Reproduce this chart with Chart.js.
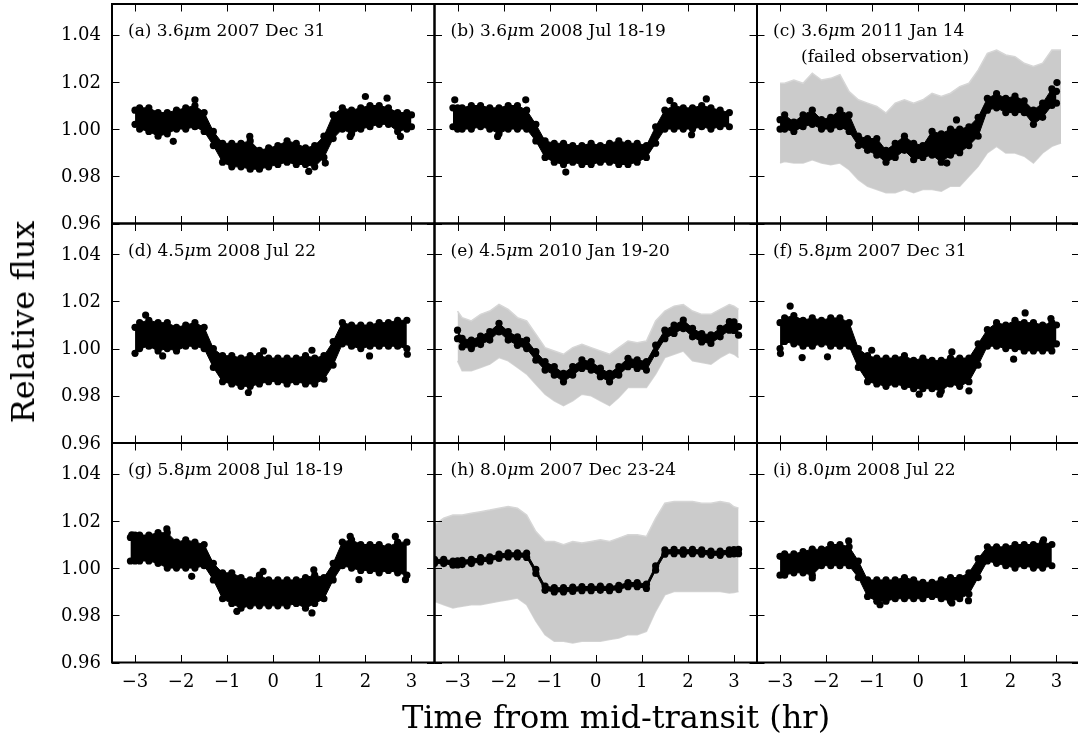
<!DOCTYPE html>
<html>
<head>
<meta charset="utf-8">
<title>Transit light curves</title>
<script src="https://cdn.jsdelivr.net/npm/chart.js@4.4.1/dist/chart.umd.min.js"></script>
<style>
  html, body { margin: 0; padding: 0; background: #fff; }
  #fig { position: relative; width: 1078px; height: 740px; overflow: hidden; background: #fff; }
  #fig canvas { position: absolute; }
  .axis-title { position: absolute; font-family: "DejaVu Serif", serif; font-size: 32px; color: #000; white-space: nowrap; line-height: 1; }
</style>
</head>
<body>
<div id="fig">
  <div class="axis-title" id="ytitle">Relative flux</div>
  <div class="axis-title" id="xtitle">Time from mid-transit (hr)</div>
</div>
<script>
const _ = null;

// Time grid (hours from mid-transit) shared by all panels
const hours = [-3.5, -3.3, -3.1, -3.0, -2.9, -2.7, -2.5, -2.3, -2.1, -1.9, -1.7, -1.5, -1.3, -1.1,
  -0.9, -0.7, -0.5, -0.3, -0.1, 0.1, 0.3, 0.5, 0.7, 0.9, 1.1, 1.3, 1.5, 1.7, 1.9, 2.1, 2.3, 2.5,
  2.7, 2.9, 3.0, 3.1, 3.3];

const yTickValues = [0.96, 0.98, 1.00, 1.02, 1.04];
const xTickValues = [-3, -2, -1, 0, 1, 2, 3];

const panelTags = ['(a)', '(b)', '(c)', '(d)', '(e)', '(f)', '(g)', '(h)', '(i)'];
const bandsMicron = ['3.6', '3.6', '3.6', '4.5', '4.5', '5.8', '5.8', '8.0', '8.0'];
const obsDates = ['2007 Dec 31', '2008 Jul 18-19', '2011 Jan 14', '2008 Jul 22', '2010 Jan 19-20',
  '2007 Dec 31', '2008 Jul 18-19', '2007 Dec 23-24', '2008 Jul 22'];
const panelNotes = [_, _, '(failed observation)', _, _, _, _, _, _];

// Binned light curves: upper and lower edge of the binned points
const aHi = [_, _, _, 1.008, 1.009, 1.009, 1.007, 1.007, 1.008, 1.009, 1.010, 1.007, 0.999, 0.994, 0.994, 0.994, 0.995, 0.991, 0.992, 0.993, 0.995, 0.994, 0.992, 0.993, 0.997, 1.006, 1.009, 1.008, 1.009, 1.010, 1.010, 1.009, 1.007, 1.007, 1.006, _, _];
const aLo = [_, _, _, 1.002, 1.000, 0.999, 0.997, 0.998, 1.000, 1.000, 1.001, 0.999, 0.993, 0.986, 0.984, 0.984, 0.983, 0.983, 0.984, 0.985, 0.986, 0.985, 0.985, 0.984, 0.988, 0.996, 1.000, 0.998, 1.000, 1.001, 1.002, 1.002, 0.999, 1.000, 1.001, _, _];
const aStray = [[-2.17, 0.9948], [-1.70, 1.0124], [-0.51, 0.9969], [0.77, 0.9821], [1.13, 0.9856], [1.67, 0.9969], [2.00, 1.0138], [2.47, 1.0131], [2.76, 0.9969]];

const bHi = [_, _, 1.009, 1.009, 1.009, 1.010, 1.010, 1.009, 1.009, 1.010, 1.010, 1.008, 1.002, 0.995, 0.994, 0.994, 0.993, 0.993, 0.994, 0.993, 0.994, 0.995, 0.994, 0.994, 0.993, 1.001, 1.008, 1.010, 1.009, 1.009, 1.010, 1.009, 1.008, 1.007, _, _, _];
const bLo = [_, _, 1.001, 1.000, 1.000, 1.000, 1.001, 1.000, 0.998, 1.000, 1.000, 1.000, 0.995, 0.988, 0.986, 0.985, 0.986, 0.985, 0.985, 0.986, 0.986, 0.985, 0.985, 0.986, 0.988, 0.994, 1.000, 1.000, 1.000, 1.000, 1.001, 1.000, 1.001, 1.001, _, _, _];
const bStray = [[-3.06, 1.0124], [-1.52, 1.0124], [-2.13, 0.9969], [-0.65, 0.9818], [1.61, 1.0121], [2.08, 0.9976], [2.40, 1.0128]];

const cHi = [_, _, _, 1.004, 1.006, 1.003, 1.006, 1.008, 1.004, 1.005, 1.008, 1.006, 0.997, 0.996, 0.996, 0.991, 0.994, 0.997, 0.994, 0.993, 0.999, 0.998, 1.000, 1.000, 1.001, 1.005, 1.013, 1.015, 1.013, 1.014, 1.012, 1.008, 1.011, 1.017, 1.016, _, _];
const cLo = [_, _, _, 1.000, 1.000, 0.999, 1.001, 1.002, 1.000, 1.000, 1.001, 0.999, 0.993, 0.991, 0.989, 0.986, 0.988, 0.991, 0.987, 0.988, 0.989, 0.986, 0.989, 0.990, 0.993, 0.997, 1.008, 1.009, 1.007, 1.007, 1.007, 1.002, 1.005, 1.010, 1.011, _, _];
const cStray = [[3.01, 1.0197], [0.83, 1.0039], [0.62, 0.9856]];
const cGrayHi = [_, _, _, 1.0194, 1.0194, 1.0208, 1.0194, 1.0237, 1.0208, 1.0215, 1.0230, 1.0159, 1.0124, 1.0110, 1.0096, 1.0068, 1.0110, 1.0124, 1.0110, 1.0124, 1.0152, 1.0138, 1.0152, 1.0180, 1.0194, 1.0250, 1.0321, 1.0335, 1.0314, 1.0307, 1.0279, 1.0265, 1.0279, 1.0335, 1.0335, 1.0335, _];
const cGrayLo = [_, _, _, 0.9856, 0.9863, 0.9856, 0.9856, 0.9870, 0.9856, 0.9849, 0.9856, 0.9828, 0.9786, 0.9758, 0.9744, 0.9730, 0.9730, 0.9744, 0.9730, 0.9744, 0.9744, 0.9737, 0.9758, 0.9758, 0.9800, 0.9842, 0.9899, 0.9927, 0.9899, 0.9899, 0.9885, 0.9856, 0.9899, 0.9927, 0.9934, 0.9941, _];

const dHi = [_, _, _, 1.009, 1.011, 1.012, 1.011, 1.011, 1.009, 1.010, 1.011, 1.009, 1.000, 0.997, 0.997, 0.996, 0.997, 0.997, 0.996, 0.996, 0.996, 0.996, 0.997, 0.996, 0.997, 1.003, 1.011, 1.010, 1.010, 1.010, 1.011, 1.011, 1.012, 1.012, _, _, _];
const dLo = [_, _, _, 0.998, 1.000, 1.001, 0.999, 1.000, 0.999, 1.001, 1.001, 1.000, 0.992, 0.986, 0.985, 0.984, 0.984, 0.985, 0.986, 0.986, 0.985, 0.986, 0.985, 0.985, 0.987, 0.993, 1.002, 1.001, 1.000, 1.001, 1.001, 1.001, 1.001, 1.000, _, _, _];
const dStray = [[-2.77, 1.0142], [-2.40, 0.9969], [-0.54, 0.9814], [-0.21, 0.9990], [0.84, 0.9993], [2.09, 0.9969], [2.91, 0.9976]];

const eHi = [_, _, _, 1.0078, 1.0043, 1.0036, 1.0053, 1.0072, 1.0107, 1.0072, 1.0050, 1.0036, 0.9987, 0.9945, 0.9924, 0.9895, 0.9924, 0.9952, 0.9945, 0.9917, 0.9895, 0.9924, 0.9959, 0.9952, 0.9945, 1.0015, 1.0078, 1.0100, 1.0121, 1.0086, 1.0064, 1.0058, 1.0086, 1.0114, 1.0113, 1.0093, _];
const eLo = [_, _, _, 1.0042, 1.0007, 1.0000, 1.0017, 1.0036, 1.0071, 1.0036, 1.0014, 1.0000, 0.9951, 0.9909, 0.9888, 0.9859, 0.9888, 0.9916, 0.9909, 0.9881, 0.9859, 0.9888, 0.9923, 0.9916, 0.9909, 0.9979, 1.0042, 1.0064, 1.0085, 1.0050, 1.0028, 1.0022, 1.0050, 1.0078, 1.0077, 1.0057, _];
const eGrayHi = [_, _, _, 1.0159, 1.0131, 1.0117, 1.0145, 1.0159, 1.0187, 1.0166, 1.0131, 1.0117, 1.0061, 1.0004, 0.9990, 0.9976, 1.0004, 1.0018, 1.0004, 0.9990, 0.9976, 1.0004, 1.0032, 1.0025, 1.0032, 1.0117, 1.0159, 1.0180, 1.0187, 1.0159, 1.0145, 1.0145, 1.0166, 1.0187, 1.0180, 1.0166, _];
const eGrayLo = [_, _, _, 0.9948, 0.9906, 0.9906, 0.9920, 0.9934, 0.9962, 0.9948, 0.9920, 0.9892, 0.9849, 0.9807, 0.9779, 0.9758, 0.9779, 0.9807, 0.9800, 0.9779, 0.9758, 0.9793, 0.9835, 0.9835, 0.9835, 0.9892, 0.9962, 0.9976, 0.9990, 0.9948, 0.9941, 0.9934, 0.9962, 0.9983, 0.9976, 0.9962, _];

const fHi = [_, _, _, 1.011, 1.013, 1.014, 1.012, 1.013, 1.012, 1.013, 1.013, 1.011, 1.000, 0.997, 0.996, 0.996, 0.996, 0.997, 0.995, 0.996, 0.995, 0.995, 0.996, 0.996, 0.996, 1.002, 1.008, 1.011, 1.010, 1.012, 1.011, 1.011, 1.010, 1.011, 1.010, _, _];
const fLo = [_, _, _, 1.000, 1.003, 1.002, 1.001, 1.001, 1.002, 1.001, 1.001, 1.001, 0.992, 0.986, 0.985, 0.984, 0.985, 0.984, 0.983, 0.983, 0.983, 0.982, 0.985, 0.984, 0.986, 0.993, 1.001, 1.001, 1.000, 1.000, 0.999, 0.999, 0.999, 0.999, 1.002, _, _];
const fStray = [[-2.99, 0.9979], [-2.78, 1.0180], [-2.52, 0.9962], [-1.97, 0.9965], [-1.01, 0.9993], [0.02, 0.9807], [0.47, 0.9807], [1.10, 0.9821], [2.07, 0.9955], [2.32, 1.0151], [2.88, 1.0127], [0.73, 0.9986]];

const gHi = [_, _, 1.013, 1.014, 1.014, 1.014, 1.015, 1.015, 1.011, 1.012, 1.011, 1.010, 1.002, 0.998, 0.998, 0.996, 0.995, 0.997, 0.995, 0.995, 0.995, 0.995, 0.996, 0.997, 0.996, 1.002, 1.011, 1.012, 1.010, 1.010, 1.010, 1.009, 1.011, 1.011, _, _, _];
const gLo = [_, _, 1.003, 1.003, 1.003, 1.003, 1.002, 1.000, 1.000, 1.000, 1.000, 1.001, 0.995, 0.987, 0.985, 0.983, 0.984, 0.984, 0.984, 0.984, 0.984, 0.985, 0.983, 0.985, 0.987, 0.995, 1.001, 1.000, 0.999, 0.999, 0.998, 0.999, 0.998, 0.997, _, _, _];
const gStray = [[-3.07, 1.0141], [-2.31, 1.0166], [-1.77, 0.9965], [-0.79, 0.9817], [-0.22, 0.9986], [0.84, 0.9810], [0.88, 0.9993], [1.67, 1.0134], [1.86, 0.9951], [2.65, 1.0134], [2.87, 0.9951]];

const hHi = [1.0037, 1.0037, 1.0030, 1.0031, 1.0033, 1.0037, 1.0044, 1.0048, 1.0059, 1.0065, 1.0065, 1.0063, 0.9995, 0.9924, 0.9917, 0.9917, 0.9919, 0.9922, 0.9922, 0.9924, 0.9922, 0.9927, 0.9939, 0.9939, 0.9932, 1.0009, 1.0077, 1.0079, 1.0077, 1.0079, 1.0077, 1.0072, 1.0072, 1.0077, 1.0078, 1.0079, _];
const hLo = [1.0019, 1.0019, 1.0012, 1.0013, 1.0015, 1.0019, 1.0026, 1.0030, 1.0041, 1.0047, 1.0047, 1.0045, 0.9977, 0.9906, 0.9899, 0.9899, 0.9901, 0.9904, 0.9904, 0.9906, 0.9904, 0.9909, 0.9921, 0.9921, 0.9914, 0.9991, 1.0059, 1.0061, 1.0059, 1.0061, 1.0059, 1.0054, 1.0054, 1.0059, 1.0060, 1.0061, _];
const hGrayHi = [1.0183, 1.0211, 1.0225, 1.0225, 1.0225, 1.0232, 1.0239, 1.0246, 1.0254, 1.0261, 1.0254, 1.0225, 1.0155, 1.0113, 1.0113, 1.0099, 1.0113, 1.0106, 1.0113, 1.0120, 1.0113, 1.0127, 1.0141, 1.0141, 1.0134, 1.0211, 1.0275, 1.0282, 1.0282, 1.0282, 1.0275, 1.0275, 1.0282, 1.0275, 1.0260, 1.0254, _];
const hGrayLo = [0.9859, 0.9845, 0.9831, 0.9835, 0.9838, 0.9845, 0.9845, 0.9852, 0.9859, 0.9866, 0.9873, 0.9845, 0.9775, 0.9718, 0.9690, 0.9690, 0.9683, 0.9690, 0.9690, 0.9690, 0.9697, 0.9704, 0.9718, 0.9718, 0.9732, 0.9817, 0.9887, 0.9901, 0.9901, 0.9901, 0.9901, 0.9901, 0.9901, 0.9894, 0.9897, 0.9901, _];

const iHi = [_, _, _, 1.005, 1.006, 1.006, 1.007, 1.008, 1.008, 1.010, 1.010, 1.009, 1.003, 0.995, 0.995, 0.995, 0.995, 0.996, 0.995, 0.994, 0.994, 0.995, 0.996, 0.996, 0.998, 1.004, 1.009, 1.009, 1.009, 1.010, 1.010, 1.010, 1.011, 1.010, _, _, _];
const iLo = [_, _, _, 0.997, 0.997, 0.998, 0.998, 0.997, 1.001, 1.001, 1.001, 1.001, 0.996, 0.988, 0.986, 0.986, 0.987, 0.987, 0.987, 0.987, 0.988, 0.987, 0.986, 0.987, 0.989, 0.996, 1.003, 1.002, 1.001, 1.000, 1.001, 1.000, 1.000, 1.001, _, _, _];
const iStray = [[-2.30, 0.9958], [-1.51, 1.0115], [-0.83, 0.9845], [0.73, 0.9852], [1.09, 0.9862], [2.72, 1.0120]];

const blackHi = [aHi, bHi, cHi, dHi, eHi, fHi, gHi, hHi, iHi];
const blackLo = [aLo, bLo, cLo, dLo, eLo, fLo, gLo, hLo, iLo];
const strayPoints = [aStray, bStray, cStray, dStray, [], fStray, gStray, [], iStray];
const grayHi = [_, _, cGrayHi, _, eGrayHi, _, _, hGrayHi, _];
const grayLo = [_, _, cGrayLo, _, eGrayLo, _, _, hGrayLo, _];

// ---- layout of the 3x3 grid (pixels) ----
const GRID_LEFT = 112, GRID_TOP = 4, CELL_W = 322.5, CELL_H = 219.5;
const X_MIN = -3.5, X_MAX = 3.5, Y_MIN = 0.96, Y_MAX = 1.053;
const FONT = '"DejaVu Serif", serif';
const TICK_LEN = 7.5;
const DOT_R = 3.6;

function toPoints(values) {
  return hours.map((x, i) => ({ x: x, y: values[i] })).filter(p => p.y !== null);
}

function fmtTick(v) {
  return v < 0 ? '\u2212' + Math.abs(v) : String(v);
}

// Frame, inward ticks, tick labels and the panel caption
const framePlugin = {
  id: 'panelFrame',
  afterDraw(chart, args, opts) {
    const { ctx, chartArea: a, scales } = chart;
    const xs = scales.x, ys = scales.y;
    ctx.save();
    ctx.strokeStyle = '#000';
    ctx.lineWidth = 1;
    ctx.beginPath();
    xTickValues.forEach(v => {
      const px = Math.round(xs.getPixelForValue(v)) + 0.5;
      ctx.moveTo(px, a.top); ctx.lineTo(px, a.top + TICK_LEN);
      ctx.moveTo(px, a.bottom); ctx.lineTo(px, a.bottom - TICK_LEN);
    });
    yTickValues.forEach(v => {
      const py = Math.round(ys.getPixelForValue(v)) + 0.5;
      ctx.moveTo(a.left, py); ctx.lineTo(a.left + TICK_LEN, py);
      ctx.moveTo(a.right, py); ctx.lineTo(a.right - TICK_LEN, py);
    });
    ctx.stroke();

    ctx.lineWidth = 2;
    ctx.strokeRect(a.left, a.top, a.right - a.left, a.bottom - a.top);

    ctx.fillStyle = '#000';
    if (opts.yLabels) {
      ctx.font = '18px ' + FONT;
      ctx.textAlign = 'right';
      ctx.textBaseline = 'middle';
      yTickValues.forEach(v => {
        ctx.fillText(v.toFixed(2), a.left - 11, ys.getPixelForValue(v) + 1);
      });
    }
    if (opts.xLabels) {
      ctx.font = '18px ' + FONT;
      ctx.textAlign = 'center';
      ctx.textBaseline = 'middle';
      xTickValues.forEach(v => {
        ctx.fillText(fmtTick(v), xs.getPixelForValue(v), a.bottom + 20);
      });
    }

    // caption: "(a) 3.6μm 2007 Dec 31" with an italic μ
    ctx.textAlign = 'left';
    ctx.textBaseline = 'alphabetic';
    let x = a.left + 16;
    const yBase = a.top + 32;
    const parts = [
      [opts.tag + ' ' + opts.band, '17px ' + FONT],
      ['\u03bc', 'italic 17px ' + FONT],
      ['m ' + opts.date, '17px ' + FONT]
    ];
    parts.forEach(([txt, font]) => {
      ctx.font = font;
      ctx.fillText(txt, x, yBase);
      x += ctx.measureText(txt).width;
    });
    if (opts.note) {
      ctx.font = '17px ' + FONT;
      ctx.fillText(opts.note, a.left + 44, a.top + 58);
    }
    ctx.restore();
  }
};

const fig = document.getElementById('fig');

for (let k = 0; k < 9; k++) {
  const row = Math.floor(k / 3), col = k % 3;
  const areaL = GRID_LEFT + col * CELL_W;
  const areaT = GRID_TOP + row * CELL_H;
  const areaR = areaL + CELL_W, areaB = areaT + CELL_H;

  const cL = col === 0 ? 0 : Math.floor(areaL) - 4;
  const cT = row === 0 ? 0 : Math.floor(areaT) - 4;
  const cR = Math.ceil(areaR) + 4;
  const cB = row === 2 ? 705 : Math.ceil(areaB) + (col === 0 ? 14 : 4);

  const canvas = document.createElement('canvas');
  canvas.width = cR - cL;
  canvas.height = cB - cT;
  canvas.style.left = cL + 'px';
  canvas.style.top = cT + 'px';
  canvas.style.width = (cR - cL) + 'px';
  canvas.style.height = (cB - cT) + 'px';
  canvas.style.zIndex = String(10 - k);
  fig.appendChild(canvas);

  const datasets = [
    {
      data: strayPoints[k].map(([x, y]) => ({ x, y })), showLine: false,
      pointRadius: DOT_R, pointBackgroundColor: '#000', pointBorderWidth: 0, clip: 0
    },
    {
      data: toPoints(blackHi[k]), borderColor: '#000', borderWidth: 1,
      backgroundColor: '#000', fill: '+1',
      pointRadius: DOT_R, pointBackgroundColor: '#000', pointBorderWidth: 0, clip: 0
    },
    {
      data: toPoints(blackLo[k]), borderColor: '#000', borderWidth: 1,
      fill: false,
      pointRadius: DOT_R, pointBackgroundColor: '#000', pointBorderWidth: 0, clip: 0
    }
  ];
  if (grayHi[k]) {
    datasets.push(
      {
        data: toPoints(grayHi[k]), borderColor: '#d6d6d6', borderWidth: 1.5,
        backgroundColor: '#cbcbcb', fill: '+1', pointRadius: 0, clip: 0
      },
      {
        data: toPoints(grayLo[k]), borderColor: '#d6d6d6', borderWidth: 1.5,
        fill: false, pointRadius: 0, clip: 0
      }
    );
  }

  new Chart(canvas, {
    type: 'line',
    data: { datasets },
    options: {
      responsive: false,
      animation: false,
      devicePixelRatio: 1,
      events: [],
      layout: {
        padding: { left: areaL - cL, top: areaT - cT, right: cR - areaR, bottom: cB - areaB }
      },
      scales: {
        x: { type: 'linear', min: X_MIN, max: X_MAX, display: false },
        y: { type: 'linear', min: Y_MIN, max: Y_MAX, display: false }
      },
      elements: { line: { tension: 0 } },
      plugins: {
        legend: { display: false },
        tooltip: { enabled: false },
        panelFrame: {
          tag: panelTags[k], band: bandsMicron[k], date: obsDates[k], note: panelNotes[k],
          yLabels: col === 0, xLabels: row === 2
        }
      }
    },
    plugins: [framePlugin]
  });
}

// Shared axis titles
const yt = document.getElementById('ytitle');
yt.style.left = '23px';
yt.style.top = '322px';
yt.style.zIndex = '20';
yt.style.transform = 'translate(-50%, -50%) rotate(-90deg)';
const xt = document.getElementById('xtitle');
xt.style.left = '616px';
xt.style.top = '717px';
xt.style.zIndex = '20';
xt.style.transform = 'translate(-50%, -50%)';
</script>
</body>
</html>
